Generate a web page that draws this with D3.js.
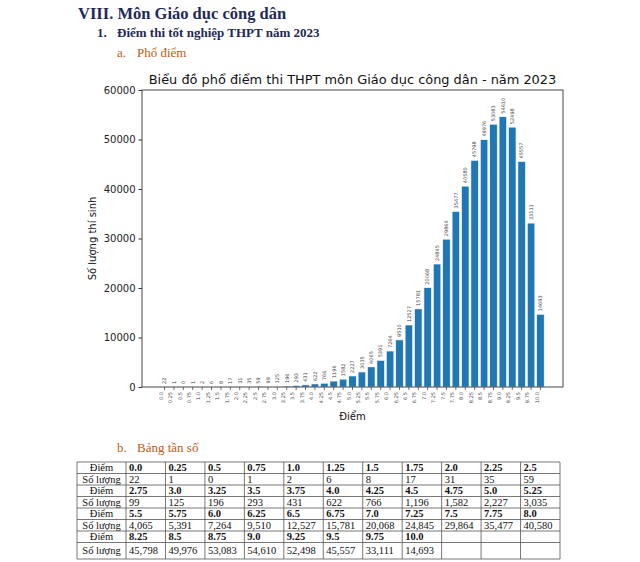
<!DOCTYPE html>
<html><head><meta charset="utf-8">
<script src="https://cdn.jsdelivr.net/npm/d3@7"></script>
<style>body{margin:0;background:#fff;} svg{display:block;}</style>
</head><body>
<script>
const scores = ["0.0","0.25","0.5","0.75","1.0","1.25","1.5","1.75","2.0","2.25","2.5","2.75","3.0","3.25","3.5","3.75","4.0","4.25","4.5","4.75","5.0","5.25","5.5","5.75","6.0","6.25","6.5","6.75","7.0","7.25","7.5","7.75","8.0","8.25","8.5","8.75","9.0","9.25","9.5","9.75","10.0"];
const counts = [22,1,0,1,2,6,8,17,31,35,59,99,125,196,293,431,622,766,1196,1582,2227,3035,4065,5391,7264,9510,12527,15781,20068,24845,29864,35477,40580,45798,49976,53083,54610,52498,45557,33111,14693];
const yTicks = [0,10000,20000,30000,40000,50000,60000];
const chartTitle = "Biểu đồ phổ điểm thi THPT môn Giáo dục công dân - năm 2023";
const xLabel = "Điểm";
const yLabel = "Số lượng thí sinh";
const headings = ["VIII. Môn Giáo dục công dân","Điểm thi tốt nghiệp THPT năm 2023","Phổ điểm","Bảng tần số"];
const rowHeadScore = "Điểm";
const rowHeadCount = "Số lượng";

const W = 640, H = 562;
const svg = d3.select("body").append("svg").attr("width", W).attr("height", H);

// headings
const serif = "'Liberation Serif','Times New Roman',serif";
svg.append("text").attr("x",78).attr("y",19).attr("font-family",serif).attr("font-weight","bold")
  .attr("font-size",16.5).attr("fill","#1f2a56").text(headings[0]);
svg.append("text").attr("x",97).attr("y",37).attr("font-family",serif).attr("font-weight","bold")
  .attr("font-size",13).attr("fill","#1f2a56").text("1.");
svg.append("text").attr("x",117).attr("y",37).attr("font-family",serif).attr("font-weight","bold")
  .attr("font-size",13).attr("fill","#1f2a56").text(headings[1]);
svg.append("text").attr("x",117).attr("y",57).attr("font-family",serif)
  .attr("font-size",13).attr("fill","#c55a11").text("a.");
svg.append("text").attr("x",137).attr("y",57).attr("font-family",serif)
  .attr("font-size",13).attr("fill","#c55a11").text(headings[2]);
svg.append("text").attr("x",117).attr("y",452).attr("font-family",serif)
  .attr("font-size",13).attr("fill","#c55a11").text("b.");
svg.append("text").attr("x",137).attr("y",452).attr("font-family",serif)
  .attr("font-size",13).attr("fill","#c55a11").text(headings[3]);

// chart
const sans = "'DejaVu Sans',sans-serif";
const L = 142, R = 563, T = 90, B = 387;
const x = d3.scaleBand().domain(scores).range([L,R]).paddingInner(0.2).paddingOuter(2.0);
const y = d3.scaleLinear().domain([0,60000]).range([B,T]);

const g = svg.append("g");
g.selectAll("rect.bar").data(counts).join("rect").attr("class","bar")
  .attr("x",(d,i)=>x(scores[i])).attr("width",x.bandwidth())
  .attr("y",d=>y(d)).attr("height",d=>B-y(d))
  .attr("fill","#1f77b4").attr("stroke","#fff").attr("stroke-width",0.6);

g.selectAll("text.vl").data(counts).join("text").attr("class","vl")
  .attr("transform",(d,i)=>`translate(${x(scores[i])+x.bandwidth()/2+1.8},${y(d)-3}) rotate(-90)`)
  .attr("font-family",sans).attr("font-size",5).attr("fill","#444").text(d=>d);

const ax = g.append("g").attr("transform",`translate(0,${B})`)
  .call(d3.axisBottom(x).tickSize(3).tickSizeOuter(0));
ax.select(".domain").remove();
ax.selectAll("text").attr("font-family",sans).attr("font-size",5).attr("fill","#444")
  .attr("transform","rotate(-90)").attr("text-anchor","end").attr("x",-5).attr("y",-1.8).attr("dy","0");
ax.selectAll("line").attr("stroke","#333").attr("stroke-width",0.7);

const ay = g.append("g").attr("transform",`translate(${L},0)`)
  .call(d3.axisLeft(y).tickValues(yTicks).tickFormat(d3.format("d")).tickSize(3.5).tickSizeOuter(0));
ay.select(".domain").remove();
ay.selectAll("text").attr("font-family",sans).attr("font-size",10).attr("fill","#222");
ay.selectAll("line").attr("stroke","#333");

g.append("rect").attr("x",L).attr("y",T).attr("width",R-L).attr("height",B-T)
  .attr("fill","none").attr("stroke","#333").attr("stroke-width",0.9);

svg.append("text").attr("x",(L+R)/2).attr("y",84).attr("text-anchor","middle")
  .attr("font-family",sans).attr("font-size",12.9).attr("fill","#111").text(chartTitle);
svg.append("text").attr("x",(L+R)/2).attr("y",420).attr("text-anchor","middle")
  .attr("font-family",sans).attr("font-size",10).attr("fill","#111").text(xLabel);
svg.append("text").attr("transform",`translate(96,${(T+B)/2}) rotate(-90)`).attr("text-anchor","middle")
  .attr("font-family",sans).attr("font-size",10).attr("fill","#111").text(yLabel);

// table
const tL = 77, tFirst = 126, tR = 560;
const nCols = 11;
const cw = (tR - tFirst)/nCols;
const rowY = [462,473.5,485,496.5,508,519.5,531,542.5,559];
const fmt = d3.format(",");
const tg = svg.append("g").attr("font-family",serif).attr("font-size",10.5).attr("fill","#111");
for (let r = 0; r < 4; r++) {
  const sy0 = rowY[2*r], sy1 = rowY[2*r+1], cy1 = rowY[2*r+2];
  tg.append("text").attr("x",(tL+tFirst)/2).attr("y",(sy0+sy1)/2+3.6).attr("text-anchor","middle").text(rowHeadScore);
  tg.append("text").attr("x",(tL+tFirst)/2).attr("y",(sy1+cy1)/2+3.6).attr("text-anchor","middle").text(rowHeadCount);
  for (let c = 0; c < nCols; c++) {
    const i = r*nCols + c;
    if (i >= scores.length) continue;
    const cx = tFirst + c*cw + 3;
    tg.append("text").attr("x",cx).attr("y",(sy0+sy1)/2+3.6).attr("font-weight","bold").text(scores[i]);
    tg.append("text").attr("x",cx).attr("y",(sy1+cy1)/2+3.6).text(fmt(counts[i]));
  }
}
const lines = tg.append("g").attr("stroke","#555").attr("stroke-width",0.8);
rowY.forEach(v=>lines.append("line").attr("x1",tL).attr("x2",tR).attr("y1",v).attr("y2",v));
lines.append("line").attr("x1",tL).attr("x2",tL).attr("y1",rowY[0]).attr("y2",rowY[8]);
for (let c = 0; c <= nCols; c++) {
  const xv = tFirst + c*cw;
  lines.append("line").attr("x1",xv).attr("x2",xv).attr("y1",rowY[0]).attr("y2",rowY[8]);
}
</script>
</body></html>
